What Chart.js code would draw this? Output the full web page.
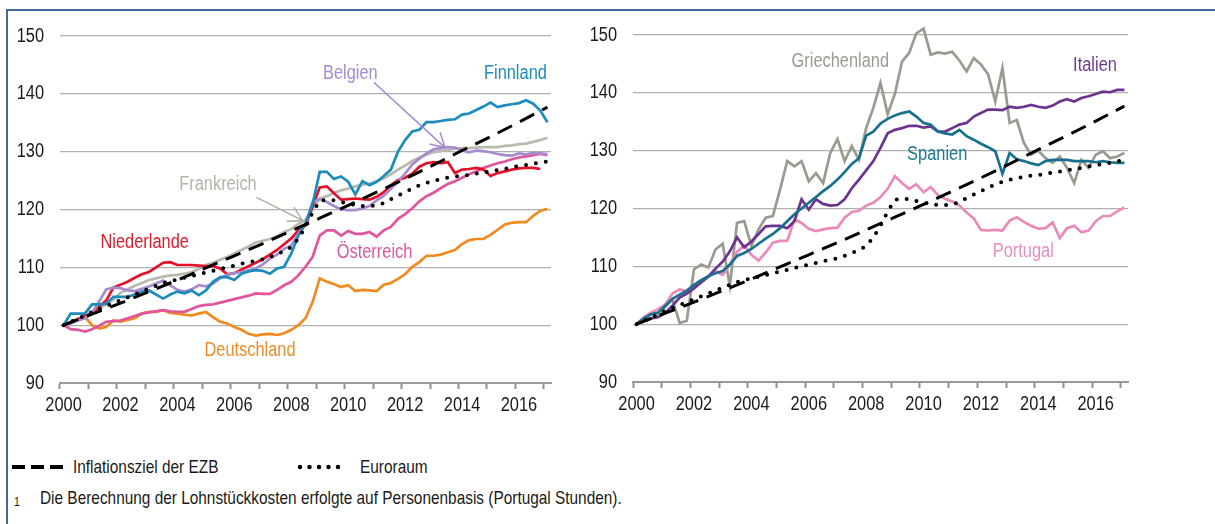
<!DOCTYPE html>
<html>
<head>
<meta charset="utf-8">
<script src="https://cdn.jsdelivr.net/npm/chart.js@4.4.1/dist/chart.umd.min.js"></script>
<style>
    html, body { margin: 0; padding: 0; background: #fff; }
    body {
        width: 1215px; height: 524px; position: relative; overflow: hidden;
        font-family: 'Liberation Sans', Arial, sans-serif;
        color: #1a1a1a;
    }
    #rahmen-oben { position: absolute; left: 6px; top: 9px; width: 1209px; height: 0; border-top: 2px solid #41689e; }
    #rahmen-links { position: absolute; left: 6px; top: 9px; width: 0; height: 515px; border-left: 2px solid #41689e; }
    canvas { position: absolute; top: 0; }
    #links { left: 0; }
    #rechts { left: 580px; }
    /* Arial Narrow nachgebildet: Liberation Sans horizontal gestaucht */
    .leg {
        position: absolute; font-size: 19px; line-height: 20px; white-space: nowrap;
        transform: scaleX(0.81); transform-origin: 0 0;
    }
    svg { position: absolute; }
</style>
</head>
<body>
<div id="rahmen-oben"></div>
<div id="rahmen-links"></div>
<canvas id="links" width="570" height="430"></canvas>
<canvas id="rechts" width="570" height="430"></canvas>

<svg style="left:10px; top:461px" width="60" height="12">
    <line x1="2" y1="6" x2="54" y2="6" stroke="#000" stroke-width="4" stroke-dasharray="13 6"/>
</svg>
<div class="leg" style="left:73px; top:457px">Inflationsziel der EZB</div>
<svg style="left:296px; top:461px" width="56" height="12">
    <line x1="4" y1="6" x2="46" y2="6" stroke="#000" stroke-width="4.5" stroke-linecap="round" stroke-dasharray="0 9.5"/>
</svg>
<div class="leg" style="left:360px; top:457px">Euroraum</div>
<div class="leg" style="left:14px; top:492px; font-size:13px">1</div>
<div class="leg" style="left:40px; top:488px">Die Berechnung der Lohnstückkosten erfolgte auf Personenbasis (Portugal Stunden).</div>

<script>
// Quartale 2000 Q1 bis 2017 Q1
var quartale = [];
for (var j = 2000; j <= 2017; j++) {
    for (var q = 1; q <= 4; q++) {
        if (quartale.length < 69) quartale.push(j + ' Q' + q);
    }
}

// Lohnstückkosten, Index 2000 = 100
var finnland = [100, 102, 102, 102, 103.6, 103.6, 103.7, 104.9, 104.9, 104.9,
    105.3, 105.8, 106, 105.3, 104.6, 105.3, 105.8, 105.5, 106, 105.2,
    106, 107.5, 108.3, 108.3, 107.8, 108.9, 109.3, 109.5, 109.4, 108.9,
    109.8, 110.1, 112.4, 115.5, 117.5, 121, 126.5, 126.5, 125.3, 125.7,
    124.8, 122.6, 124.9, 124.2, 124.8, 125.8, 126.9, 130, 132, 133.5,
    133.8, 135.1, 135.1, 135.3, 135.5, 135.6, 136.4, 136.6, 137.2, 137.8,
    138.5, 137.7, 138, 138.2, 138.4, 138.9, 138.3, 137.1, 135.1];

var niederlande = [100, 100.4, 101, 101.6, 102.1, 103.2, 104.3, 106.5, 107, 107.5,
    108.2, 108.8, 109.2, 110, 110.8, 110.9, 110.4, 110.4, 110.4, 110.3,
    110.2, 110.2, 109.8, 108.8, 109, 109.6, 110.2, 110.8, 111.4, 112.2,
    113, 114, 115, 116.4, 117.2, 120.5, 123.8, 124, 122.8, 121.7,
    121.8, 121.9, 121.8, 121.7, 122.2, 123, 124.2, 125.1, 125.5, 126.2,
    127.4, 128, 128.2, 128, 128.2, 126.3, 126.9, 127, 127.2, 126.9,
    125.8, 126.3, 126.6, 126.9, 127.1, 127.2, 127.2, 127];

var belgien = [100, 100.3, 100.8, 101.2, 102.1, 104.1, 106.2, 106.5, 106.4, 106,
    105.9, 106.3, 106.7, 107.2, 107.7, 106.9, 106.1, 105.8, 106.2, 106.9,
    106.7, 107.2, 108.1, 108.7, 109, 109.2, 109.5, 109.8, 110.5, 111.5,
    112.2, 113.2, 113.8, 115.8, 117.6, 121.3, 121.8, 121.3, 120.6, 120,
    119.9, 119.9, 120.2, 120.6, 121.6, 122.4, 123.6, 124.8, 126.2, 127.8,
    128.8, 129.7, 130.4, 130.6, 130.8, 130.7, 130.2, 129.9, 130.2, 130.1,
    129.9, 129.6, 129.4, 129.3, 129.7, 129.5, 129.8, 129.7, 129.6];

var frankreich = [100, 100.5, 101.1, 101.5, 102.1, 102.9, 103.6, 104.4, 105.6, 106.2,
    106.8, 107.3, 107.8, 108.1, 108.4, 108.6, 108.7, 108.9, 109.2, 109.7,
    110.4, 110.8, 111.3, 111.8, 112.4, 113, 113.6, 114.3, 114.6, 114.9,
    115.4, 116.1, 116.6, 117.5, 118.2, 120.1, 121.9, 122.3, 122.9, 123.3,
    123.6, 124, 124.3, 124.5, 124.9, 125.4, 126.1, 126.9, 127.6, 128.4,
    129, 129.5, 129.9, 130.1, 130.3, 130.5, 130.6, 130.6, 130.7, 130.8,
    130.8, 130.8, 131, 131.1, 131.3, 131.4, 131.7, 132, 132.4];

var oesterreich = [100, 99.3, 99.2, 98.9, 99.3, 99.9, 100.6, 100.7, 100.8, 101.2,
    101.6, 102, 102.2, 102.4, 102.6, 102.4, 102.3, 102.3, 102.8, 103.3,
    103.5, 103.6, 103.9, 104.2, 104.5, 104.8, 105.1, 105.5, 105.4, 105.4,
    106.1, 106.9, 107.5, 108.6, 110.1, 111.8, 115.5, 116.4, 116.4, 115.5,
    116.3, 115.8, 115.8, 116.1, 115.3, 116.4, 117, 118.4, 119.2, 120.2,
    121.4, 122.3, 122.9, 123.7, 124.4, 124.9, 125.5, 126.1, 126.6, 127.2,
    127.6, 128, 128.3, 128.7, 129, 129.2, 129.4, 129.6, 129.4];

var deutschland = [100, 100.6, 101.1, 101.4, 100, 99.4, 99.7, 100.8, 100.6, 100.9,
    101.2, 102, 102.3, 102.3, 102.6, 102.1, 102, 101.8, 101.7, 102,
    102.3, 101.4, 100.6, 100.3, 99.7, 99.2, 98.5, 98.2, 98.4, 98.5,
    98.3, 98.6, 99.2, 100, 101.2, 104, 108.1, 107.5, 107.1, 106.6,
    106.9, 105.9, 106.1, 106, 105.9, 107, 107.3, 108, 108.8, 110.1,
    110.9, 112, 112, 112.2, 112.6, 113, 114, 114.7, 114.9, 114.9,
    115.6, 116.5, 117.4, 117.7, 117.8, 117.8, 118.9, 119.8, 120.1];

var griechenland = [100, 100.5, 101, 101.5, 103, 104.3, 100.2, 100.6, 109.5, 110.3,
    109.8, 112.9, 113.9, 106.6, 117.5, 117.8, 113.5, 116.4, 118.4, 118.7,
    123.3, 128.2, 127.3, 128.2, 124.7, 126.1, 124.4, 129.6, 132, 128.2,
    130.8, 128.4, 133.9, 137.4, 141.7, 136.3, 139.8, 145.4, 146.9, 150.3,
    151.1, 146.6, 147, 146.8, 147.1, 145.6, 143.7, 146, 144.9, 143.2,
    138.5, 144.3, 134.8, 135.3, 131.3, 129.3, 130, 128.7, 127.9, 129,
    127, 124.4, 128.4, 127, 129.3, 129.9, 128.7, 129, 129.6];

var italien = [100, 100.7, 101, 101.2, 102, 103.2, 104.6, 105.3, 106.2, 107.2,
    108.2, 109.6, 110.8, 112.6, 115, 113.3, 114.3, 115.6, 116.9, 117,
    117, 116.6, 117.8, 121.6, 119.8, 121.6, 120.8, 120.5, 120.6, 121.6,
    123.5, 125, 126.6, 128.2, 130.5, 133, 133.6, 133.9, 134.3, 134.3,
    134, 134.2, 133.3, 133.3, 133.9, 134.5, 134.8, 135.9, 136.5, 137.1,
    137.1, 137, 137.6, 137.4, 137.6, 137.9, 137.6, 137.4, 137.8, 138.5,
    138.9, 138.5, 139.1, 139.4, 139.8, 140.2, 140.1, 140.5, 140.5];

var spanien = [100, 101, 101.7, 102, 103.2, 104.4, 105.1, 105.8, 106.8, 107.6,
    108.3, 108.8, 109.2, 110.3, 111.8, 112.3, 113, 113.9, 114.8, 115.6,
    116.6, 117.8, 119, 120, 121, 122, 123, 123.9, 125, 126.3,
    127.7, 128.7, 132.6, 133.3, 134.7, 135.5, 136.1, 136.5, 136.8, 135.9,
    134.8, 134.5, 133.3, 133, 132.8, 133.6, 132.5, 131.9, 131.2, 130.6,
    129.9, 126, 129.6, 128.5, 128.2, 127.8, 127.5, 128.2, 128.4, 128.4,
    128.4, 128.2, 128.2, 128.2, 128, 128.2, 128, 127.9, 127.9];

var portugal = [100, 101.2, 102, 102.6, 103.4, 105.3, 106, 105.7, 106.6, 107.5,
    108.3, 109.2, 108.5, 110.3, 112.5, 113.6, 112, 111, 112.4, 114.1,
    114.4, 114.4, 118.1, 117.5, 116.5, 116.1, 116.4, 116.6, 116.7, 118.4,
    119.4, 119.6, 120.5, 121, 122, 123.4, 125.6, 124.4, 123.4, 124.2,
    122.8, 123.7, 122.3, 121.7, 121.2, 120.5, 119.3, 118.3, 116.3, 116.2,
    116.3, 116.2, 117.9, 118.5, 117.7, 117, 116.5, 116.6, 117.6, 114.9,
    116.6, 117, 115.9, 116.2, 117.8, 118.7, 118.7, 119.5, 120.2];

var euroraum = [100, 100.6, 101.1, 101.7, 102.3, 102.8, 103.3, 103.8, 104.3, 104.8,
    105.3, 105.8, 106.3, 106.8, 107.3, 107.6, 107.9, 108.2, 108.5, 108.8,
    109.1, 109.4, 109.7, 110, 110.3, 110.6, 110.9, 111.1, 111.4, 111.8,
    112.3, 112.8, 113.5, 115, 117, 119.5, 121.5, 121.7, 121.6, 121.3,
    121, 120.8, 120.6, 120.6, 120.7, 121.1, 121.8, 122.4, 123, 123.6,
    124.2, 124.6, 125, 125.2, 125.5, 125.7, 125.8, 126, 126.2, 126.4,
    126.6, 126.8, 127, 127.3, 127.5, 127.7, 127.9, 128.2, 128.3];

// Inflationsziel der EZB, jeweils im ersten Quartal 2000 ... 2017
var ezbZiel = [100, 101.9, 103.8, 105.8, 107.8, 109.9, 112.0, 114.1, 116.3,
    118.5, 120.7, 123.0, 125.3, 127.7, 130.2, 132.6, 135.1, 137.7];

var yTicks = [90, 100, 110, 120, 130, 140, 150];

var FONT = "'Liberation Sans', Arial, sans-serif";
var STAUCHUNG = 0.82;   // Breite relativ zu Arial -> Arial Narrow

// Beschriftungen: x = Quartalsindex, y = Indexwert
var labelsLinks = [
    { text: 'Belgien', x: 40.3, y: 143.5, farbe: '#a58bcf' },
    { text: 'Finnland', x: 63.5, y: 143.5, farbe: '#1d8cbb' },
    { text: 'Frankreich', x: 21.7, y: 124.4, farbe: '#b3b4a8' },
    { text: 'Niederlande', x: 11.4, y: 114.3, farbe: '#e01a2c' },
    { text: 'Österreich', x: 43.7, y: 112.6, farbe: '#dd57a1' },
    { text: 'Deutschland', x: 26.2, y: 95.7, farbe: '#f08c2a' }
];
var pfeileLinks = [
    { x1: 43.6, y1: 142, x2: 53.6, y2: 130.7, farbe: '#a58bcf' },
    { x1: 27.1, y1: 122.1, x2: 33.6, y2: 118.1, farbe: '#b3b4a8' }
];
var labelsRechts = [
    { text: 'Griechenland', x: 28.4, y: 145.5, farbe: '#9a9a90' },
    { text: 'Italien', x: 63.9, y: 144.8, farbe: '#6f3a93' },
    { text: 'Spanien', x: 41.9, y: 129.3, farbe: '#1a7796' },
    { text: 'Portugal', x: 53.9, y: 112.6, farbe: '#ea8cbe' }
];

function linie(label, daten, farbe) {
    return {
        label: label, data: daten, borderColor: farbe, borderWidth: 2.7,
        pointRadius: 0, tension: 0, fill: false, clip: false
    };
}

function zielLinie() {
    return {
        label: 'Inflationsziel der EZB',
        data: ezbZiel.map(function (v, k) { return { x: quartale[k * 4], y: v }; }),
        borderColor: '#000', borderWidth: 3, borderDash: [16, 9],
        pointRadius: 0, tension: 0, fill: false
    };
}

function euroLinie() {
    return {
        label: 'Euroraum', data: euroraum, borderColor: '#000', borderWidth: 4,
        borderDash: [0, 10], borderCapStyle: 'round',
        pointRadius: 0, tension: 0, fill: false
    };
}

function schmal(ctx, text, x, y, align) {
    ctx.save();
    ctx.translate(x, y);
    ctx.scale(STAUCHUNG, 1);
    ctx.textAlign = align;
    ctx.fillText(text, 0, 0);
    ctx.restore();
}

// Achsenbeschriftung in schmaler Schrift an den Positionen der Chart.js-Skalen
var achsenText = {
    id: 'achsenText',
    afterDraw: function (chart) {
        var ctx = chart.ctx, xs = chart.scales.x, ys = chart.scales.y;
        ctx.save();
        ctx.font = '20px ' + FONT;
        ctx.fillStyle = '#1a1a1a';
        ctx.textBaseline = 'middle';
        ys.ticks.forEach(function (t) {
            schmal(ctx, String(t.value), chart.chartArea.left - 16, ys.getPixelForValue(t.value), 'right');
        });
        xs.ticks.forEach(function (t, i) {
            if (i % 8 !== 0) return;
            schmal(ctx, quartale[i].slice(0, 4), xs.getPixelForTick(i), xs.top + 22, 'center');
        });
        ctx.restore();
    }
};

function beschriftung(labels, pfeile) {
    return {
        id: 'beschriftung',
        afterDatasetsDraw: function (chart) {
            var ctx = chart.ctx, xs = chart.scales.x, ys = chart.scales.y;
            ctx.save();
            ctx.font = '20px ' + FONT;
            ctx.textBaseline = 'middle';
            labels.forEach(function (l) {
                ctx.fillStyle = l.farbe;
                schmal(ctx, l.text, xs.getPixelForValue(l.x), ys.getPixelForValue(l.y), 'center');
            });
            pfeile.forEach(function (p) {
                var ax = xs.getPixelForValue(p.x1), ay = ys.getPixelForValue(p.y1);
                var bx = xs.getPixelForValue(p.x2), by = ys.getPixelForValue(p.y2);
                var w = Math.atan2(ay - by, ax - bx);
                ctx.strokeStyle = p.farbe;
                ctx.lineWidth = 1.6;
                ctx.beginPath();
                ctx.moveTo(ax, ay);
                ctx.lineTo(bx, by);
                ctx.moveTo(bx + 16 * Math.cos(w - 0.52), by + 16 * Math.sin(w - 0.52));
                ctx.lineTo(bx, by);
                ctx.lineTo(bx + 16 * Math.cos(w + 0.52), by + 16 * Math.sin(w + 0.52));
                ctx.stroke();
            });
            ctx.restore();
        }
    };
}

function optionen(yBreite, xHoehe, padRechts, padOben) {
    return {
        responsive: false,
        animation: false,
        devicePixelRatio: 1,
        layout: { padding: { left: 0, right: padRechts, top: padOben, bottom: 0 } },
        plugins: { legend: { display: false }, tooltip: { enabled: false } },
        scales: {
            x: {
                type: 'category',
                labels: quartale,
                offset: true,
                grid: {
                    offset: true,
                    drawOnChartArea: false,
                    drawTicks: true,
                    tickLength: 6,
                    tickWidth: 2,
                    tickColor: function (c) { return c.index % 4 === 0 ? '#8f8f8f' : 'rgba(0,0,0,0)'; }
                },
                border: { display: true, color: '#9a9a9a', width: 2 },
                ticks: { display: false, autoSkip: false, maxRotation: 0 },
                afterFit: function (s) { s.height = xHoehe; }
            },
            y: {
                min: 90, max: 150,
                afterBuildTicks: function (s) { s.ticks = yTicks.map(function (v) { return { value: v }; }); },
                grid: { color: '#b0b0b0', lineWidth: 1.2, drawTicks: false },
                border: { display: false },
                ticks: { display: false },
                afterFit: function (s) { s.width = yBreite; }
            }
        }
    };
}

new Chart(document.getElementById('links'), {
    type: 'line',
    data: {
        labels: quartale,
        datasets: [
            zielLinie(),
            euroLinie(),
            linie('Finnland', finnland, '#1c8bbd'),
            linie('Belgien', belgien, '#a78bcf'),
            linie('Niederlande', niederlande, '#e3102a'),
            linie('Frankreich', frankreich, '#b9baae'),
            linie('Österreich', oesterreich, '#e0559e'),
            linie('Deutschland', deutschland, '#f28a1d')
        ]
    },
    options: optionen(60, 47, 19, 36),
    plugins: [achsenText, beschriftung(labelsLinks, pfeileLinks)]
});

new Chart(document.getElementById('rechts'), {
    type: 'line',
    data: {
        labels: quartale,
        datasets: [
            zielLinie(),
            euroLinie(),
            linie('Spanien', spanien, '#17708f'),
            linie('Italien', italien, '#6c3390'),
            linie('Portugal', portugal, '#eb89bb'),
            linie('Griechenland', griechenland, '#9a9b8f')
        ]
    },
    options: optionen(53, 48, 22, 35),
    plugins: [achsenText, beschriftung(labelsRechts, [])]
});
</script>
</body>
</html>
